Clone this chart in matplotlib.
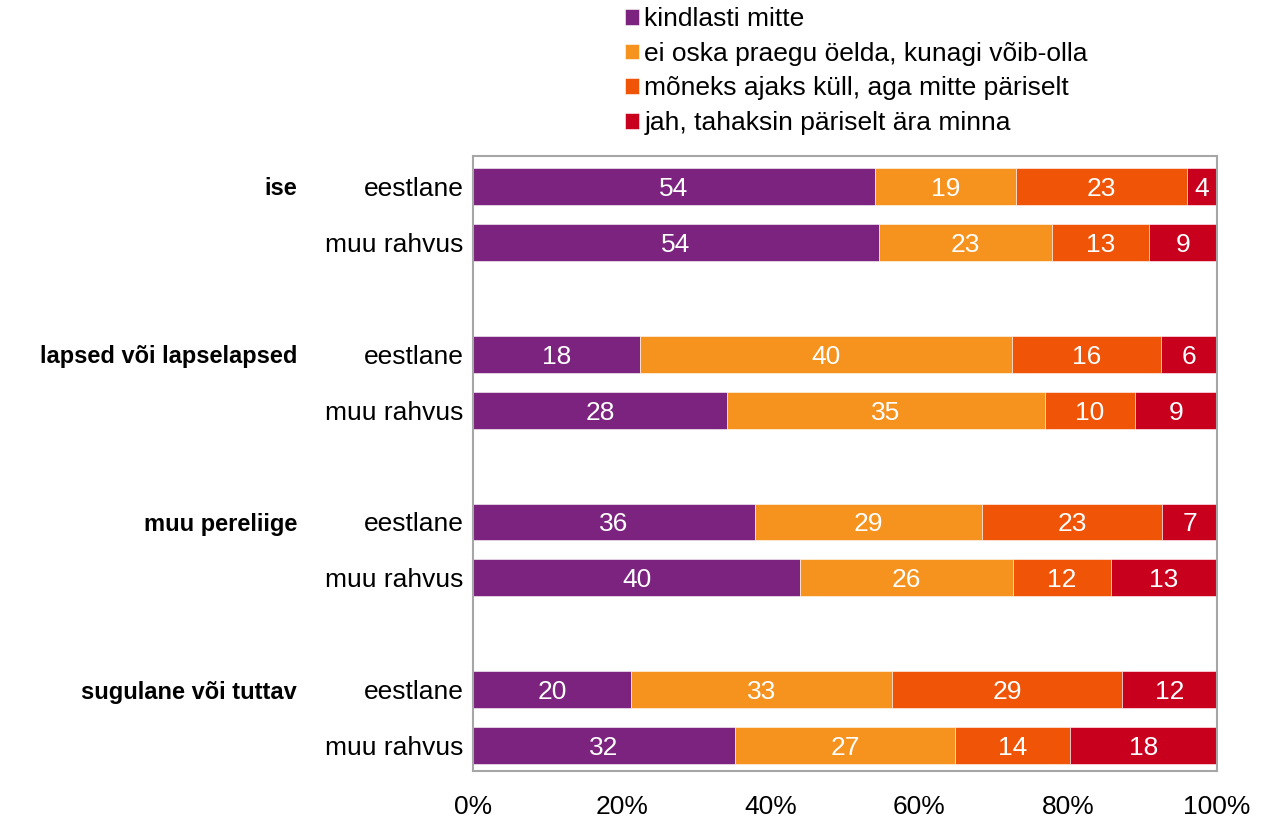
import numpy as np
import matplotlib.pyplot as plt
from matplotlib.transforms import blended_transform_factory

plt.rcParams['font.family'] = ['Liberation Sans', 'DejaVu Sans']

# data (raw values, bars are scaled to 100%)
groups = ['ise', 'lapsed või lapselapsed', 'muu pereliige', 'sugulane või tuttav']
subgroups = ['eestlane', 'muu rahvus']
series = ['kindlasti mitte', 'ei oska praegu öelda, kunagi võib-olla',
          'mõneks ajaks küll, aga mitte päriselt', 'jah, tahaksin päriselt ära minna']
kindlasti_mitte = [54, 54, 18, 28, 36, 40, 20, 32]
ei_oska = [19, 23, 40, 35, 29, 26, 33, 27]
moneks_ajaks = [23, 13, 16, 10, 23, 12, 29, 14]
jah = [4, 9, 6, 9, 7, 13, 12, 18]
colors = ['#7B237E', '#F6921E', '#EF5407', '#C8001E']

vals = np.array([kindlasti_mitte, ei_oska, moneks_ajaks, jah], dtype=float)
totals = vals.sum(axis=0)
pct = vals / totals * 100

# row positions: two bars per group, one empty row between groups
ypos = []
for g in range(len(groups)):
    ypos += [g * 3, g * 3 + 1]
ypos = np.array(ypos)

fs = 19
fig = plt.figure(figsize=(12.62, 8.18), dpi=100)
ax = fig.add_axes([473 / 1262, 1 - 771 / 818, 744 / 1262, 615 / 818])

left = np.zeros(len(ypos))
handles = []
for i in range(len(series)):
    b = ax.barh(ypos, pct[i], left=left, height=0.66, color=colors[i],
                edgecolor='white', linewidth=0.4, label=series[i])
    handles.append(b)
    for y, l, w, v in zip(ypos, left, pct[i], vals[i]):
        ax.text(l + w / 2, y, '%d' % v, ha='center', va='center_baseline',
                color='white', fontsize=fs)
    left += pct[i]

ax.set_xlim(0, 100)
ax.set_ylim(10.45, -0.54)
ax.set_xticks([0, 20, 40, 60, 80, 100])
ax.set_xticklabels(['0%', '20%', '40%', '60%', '80%', '100%'], fontsize=fs)
ax.set_yticks(ypos)
ax.set_yticklabels(subgroups * len(groups), fontsize=fs)
ax.tick_params(axis='both', length=0)
ax.tick_params(axis='y', pad=7)
ax.tick_params(axis='x', pad=17)
for s in ax.spines.values():
    s.set_color('#A6A6A6')
    s.set_linewidth(1.5)

tr = blended_transform_factory(fig.transFigure, ax.transData)
for g, name in enumerate(groups):
    ax.text(297 / 1262, g * 3, name, transform=tr, ha='right',
            va='center_baseline', fontsize=17, fontweight='bold')

fig.legend(handles=handles, labels=series, loc='upper left',
           bbox_to_anchor=(614 / 1262, 1.004), frameon=False, fontsize=fs,
           handlelength=0.55, handleheight=0.55, handletextpad=0.2,
           labelspacing=0.4, borderaxespad=0.0)

fig.savefig('out.png', dpi=100)
